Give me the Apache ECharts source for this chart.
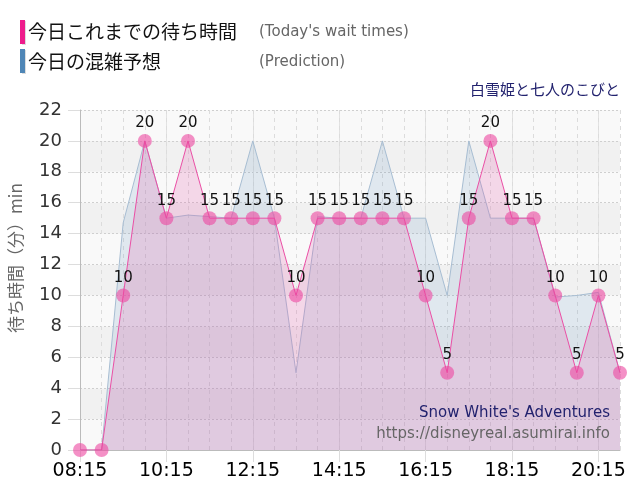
<!DOCTYPE html>
<html>
<head>
<meta charset="utf-8">
<script src="https://cdn.jsdelivr.net/npm/echarts@6/dist/echarts.min.js"></script>
<style>
html,body{margin:0;padding:0;background:#fff;}
#chart{width:640px;height:500px;}
</style>
</head>
<body>
<div id="chart"></div>
<script>
var categories = ['08:15','08:45','09:15','09:45','10:15','10:45','11:15','11:45','12:15','12:45','13:15','13:45','14:15','14:45','15:15','15:45','16:15','16:45','17:15','17:45','18:15','18:45','19:15','19:45','20:15','20:45'];
var todayWait = [0,0,10,20,15,20,15,15,15,15,10,15,15,15,15,15,10,5,15,20,15,15,10,5,10,5];
var prediction = [0,0,14.7,20,15,15.2,15.1,15,20,15,5,15.1,15,15,20,15,15,10,20,15,15,15,9.9,10,10.2,5];
var yTicks = {min:0, max:22, interval:2};

var latin = "'DejaVu Sans','Noto Sans CJK JP',sans-serif";
var cjk = "'Noto Sans CJK JP','DejaVu Sans',sans-serif";

var chart = echarts.init(document.getElementById('chart'));
chart.setOption({
  animation:false,
  backgroundColor:'#fff',
  grid:{left:80,right:20,top:110,bottom:50},
  xAxis:[{
    type:'category', data:categories, boundaryGap:false,
    axisLine:{lineStyle:{color:'#bbb'}},
    axisTick:{interval:3,length:12,lineStyle:{color:'#ddd'}},
    axisLabel:{interval:3,color:'#000',fontSize:19,fontFamily:latin,margin:12},
    splitLine:{show:true,interval:3,lineStyle:{color:'#e2e2e2',type:'solid'}}
  },{
    type:'category', data:categories, boundaryGap:false, position:'bottom',
    axisLine:{show:false}, axisTick:{show:false}, axisLabel:{show:false},
    splitLine:{show:true,interval:0,lineStyle:{color:'#dcdcdc',type:[4,4]}}
  }],
  yAxis:{
    type:'value', min:yTicks.min, max:yTicks.max, interval:yTicks.interval,
    axisLine:{show:true,lineStyle:{color:'#bbb'}},
    axisTick:{show:true,length:12,lineStyle:{color:'#ddd'}},
    axisLabel:{color:'#333',fontSize:18,fontFamily:latin,margin:18},
    splitLine:{lineStyle:{color:'#cfcfcf',type:[2,2]}},
    splitArea:{show:true,areaStyle:{color:['#f9f9f9','#f1f1f1']}}
  },
  series:[{
    name:'今日の混雑予想', type:'line', data:prediction,
    symbol:'none', z:2,
    lineStyle:{color:'#a7bdd2',width:1},
    areaStyle:{color:'rgba(80,135,185,0.2)'}
  },{
    name:'今日これまでの待ち時間', type:'line', data:todayWait,
    symbol:'circle', symbolSize:14, z:3, showSymbol:true, showAllSymbol:true,
    itemStyle:{color:'rgba(236,70,160,0.6)'},
    lineStyle:{color:'#ea4fa5',width:1},
    areaStyle:{color:'rgba(228,90,170,0.3)'},
    labelLayout:{hideOverlap:false},
    label:{show:true,position:'top',distance:3,color:'#111',fontSize:15,fontFamily:latin,
      formatter:function(p){return p.value>0?String(p.value):'';}}
  }],
  graphic:[
    {type:'rect',shape:{x:22,y:21,width:4,height:24},style:{fill:'#ddd'}},
    {type:'rect',shape:{x:20,y:20,width:5,height:24},style:{fill:'#ee1c8c'}},
    {type:'text',x:28,y:32,style:{text:'今日これまでの待ち時間',font:'19px '+cjk,fill:'#111',verticalAlign:'middle'}},
    {type:'text',x:259,y:32,style:{text:"(Today's wait times)",font:'15px '+latin,fill:'#666',verticalAlign:'middle'}},
    {type:'rect',shape:{x:22,y:50,width:4,height:24},style:{fill:'#ddd'}},
    {type:'rect',shape:{x:20,y:49,width:5,height:24},style:{fill:'#4f86b6'}},
    {type:'text',x:28,y:62,style:{text:'今日の混雑予想',font:'19px '+cjk,fill:'#111',verticalAlign:'middle'}},
    {type:'text',x:259,y:62,style:{text:'(Prediction)',font:'15px '+latin,fill:'#666',verticalAlign:'middle'}},
    {type:'text',right:20,top:82,style:{text:'白雪姫と七人のこびと',font:'15px '+cjk,fill:'#22226e'}},
    {type:'text',x:16,y:258,rotation:Math.PI/2,style:{text:'待ち時間（分）min',font:'17px '+cjk,fill:'#666',align:'center',verticalAlign:'middle'}},
    {type:'text',right:30,top:406,z:10,style:{text:"Snow White's Adventures",font:'15px '+latin,fill:'#22226e'}},
    {type:'text',right:30,top:427,z:10,style:{text:'https://disneyreal.asumirai.info',font:'15px '+latin,fill:'#666'}}
  ]
});
</script>
</body>
</html>
